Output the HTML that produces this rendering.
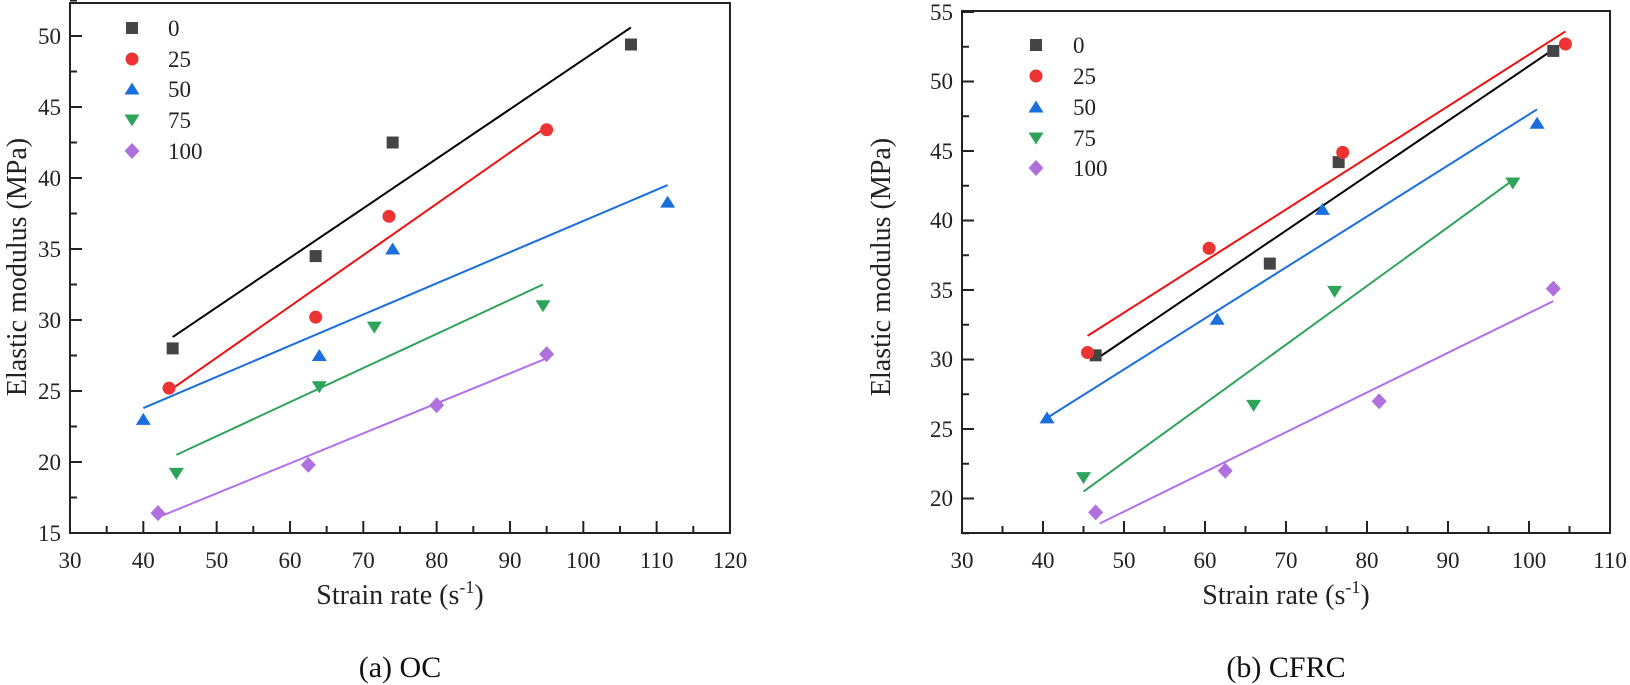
<!DOCTYPE html>
<html><head><meta charset="utf-8"><style>
html,body{margin:0;padding:0;background:#fff;}
svg{display:block;font-family:"Liberation Serif",serif;}
</style></head><body>
<svg id="s" width="1630" height="685" viewBox="0 0 1630 685" xmlns="http://www.w3.org/2000/svg">
<g font-size="23" fill="#222">
<g text-anchor="middle">
<text x="70" y="568">30</text><text x="143.3" y="568">40</text><text x="216.7" y="568">50</text><text x="290" y="568">60</text><text x="363.3" y="568">70</text><text x="436.7" y="568">80</text><text x="510" y="568">90</text><text x="583.3" y="568">100</text><text x="656.7" y="568">110</text><text x="730" y="568">120</text>
<text x="962" y="568">30</text><text x="1043" y="568">40</text><text x="1124" y="568">50</text><text x="1205" y="568">60</text><text x="1286" y="568">70</text><text x="1367" y="568">80</text><text x="1448" y="568">90</text><text x="1529" y="568">100</text><text x="1610" y="568">110</text>
</g>
<g text-anchor="end">
<text x="61" y="541">15</text><text x="61" y="470">20</text><text x="61" y="399">25</text><text x="61" y="328">30</text><text x="61" y="257">35</text><text x="61" y="186">40</text><text x="61" y="115">45</text><text x="61" y="44">50</text>
<text x="953" y="506">20</text><text x="953" y="437">25</text><text x="953" y="367">30</text><text x="953" y="298">35</text><text x="953" y="228">40</text><text x="953" y="159">45</text><text x="953" y="89">50</text><text x="953" y="20">55</text>
</g>
<g font-size="28" text-anchor="middle">
<text x="400" y="604">Strain rate (s<tspan dy="-11" font-size="18">-1</tspan><tspan dy="11">)</tspan></text>
<text x="1286" y="604">Strain rate (s<tspan dy="-11" font-size="18">-1</tspan><tspan dy="11">)</tspan></text>
<text transform="translate(26,267) rotate(-90)">Elastic modulus (MPa)</text>
<text transform="translate(890,267) rotate(-90)">Elastic modulus (MPa)</text>
</g>
<g font-size="30" text-anchor="middle" fill="#111">
<text x="400" y="677">(a) OC</text>
<text x="1286" y="677">(b) CFRC</text>
</g>
<g font-size="23">
<text x="168" y="36">0</text><text x="168" y="67">25</text><text x="168" y="97">50</text><text x="168" y="128">75</text><text x="168" y="159">100</text>
<text x="1073" y="53">0</text><text x="1073" y="84">25</text><text x="1073" y="115">50</text><text x="1073" y="146">75</text><text x="1073" y="176">100</text>
</g>
</g>
</svg>
<script>
var s=document.getElementById('s'),NS='http://www.w3.org/2000/svg';
function el(t,a){var e=document.createElementNS(NS,t);for(var k in a)e.setAttribute(k,a[k]);s.appendChild(e);return e;}
var cols=['#444','#ee3333','#1a6fdd','#2ea35a','#b070dd'];
function mk(i,x,y){var r=6.5,c=cols[i];
 if(i==0)el('rect',{x:x-r+0.5,y:y-r+0.5,width:2*r-1,height:2*r-1,fill:c});
 else if(i==1)el('circle',{cx:x,cy:y,r:r,fill:c});
 else if(i==2)el('polygon',{points:(x-r-1)+','+(y+r-1)+' '+(x+r+1)+','+(y+r-1)+' '+x+','+(y-r),fill:c});
 else if(i==3)el('polygon',{points:(x-r-1)+','+(y-r+1)+' '+(x+r+1)+','+(y-r+1)+' '+x+','+(y+r),fill:c});
 else el('polygon',{points:x+','+(y-r-1.5)+' '+(x+r+1)+','+y+' '+x+','+(y+r+1.5)+' '+(x-r-1)+','+y,fill:c});}
function plot(P){
 var X=function(v){return P.x0+(v-P.xa)*P.kx},Y=function(v){return P.yb-(v-P.ya)*P.ky};
 el('rect',{x:P.x0,y:P.top,width:X(P.xe)-P.x0,height:P.bot-P.top,fill:'none',stroke:'#222','stroke-width':2});
 for(var v=P.xa;v<=P.xe+0.01;v+=5){var maj=(v%10==0);el('line',{x1:X(v),x2:X(v),y1:P.bot,y2:P.bot-(maj?12:7),stroke:'#222','stroke-width':2});}
 for(var v=P.ytk0;v<=P.ytk1+0.01;v+=2.5){var maj=(v%5==0);el('line',{x1:P.x0,x2:P.x0+(maj?12:7),y1:Y(v),y2:Y(v),stroke:'#222','stroke-width':2});}
 P.L.forEach(function(l,i){el('line',{x1:X(l[0]),y1:Y(l[1]),x2:X(l[2]),y2:Y(l[3]),stroke:['#000','#ee1111','#1a6fdd','#2ea35a','#b070ee'][i],'stroke-width':2});});
 P.D.forEach(function(d,i){for(var j=0;j<d.length;j+=2)mk(i,X(d[j]),Y(d[j+1]));});
 P.leg.forEach(function(y,i){mk(i,P.lx,y);});
}
plot({x0:70,xa:30,xe:120,kx:7.333,yb:533,ya:15,ky:14.2,top:3,bot:533,ytk0:15,ytk1:52.5,lx:132,leg:[28,59,89,120,151],
 L:[[44,28.8,106.5,50.6],[43.5,25,95,43.6],[40,23.8,111.5,39.5],[44.5,20.5,94.5,32.5],[42,16.1,95,27.3]],
 D:[[44,28,63.5,34.5,74,42.5,106.5,49.4],[43.5,25.2,63.5,30.2,73.5,37.3,95,43.4],[40,23,64,27.5,74,35,111.5,38.3],[44.5,19.2,64,25.3,71.5,29.5,94.5,31],[42,16.4,62.5,19.8,80,24,95,27.6]]});
plot({x0:962,xa:30,xe:110,kx:8.1,yb:498.5,ya:20,ky:13.9,top:11,bot:533,ytk0:17.5,ytk1:55,lx:1036,leg:[45,76,107,138,168],
 L:[[46.5,30,103.5,52.5],[45.5,31.7,104.5,53.6],[40.5,25.8,101,48],[45,20.5,98,42.9],[47,18.2,103,34.2]],
 D:[[46.5,30.3,68,36.9,76.5,44.2,103,52.2],[45.5,30.5,60.5,38,77,44.9,104.5,52.7],[40.5,25.8,61.5,32.9,74.5,40.8,101,47],[45,21.5,66,26.7,76,34.9,98,42.7],[46.5,19,62.5,22,81.5,27,103,35.1]]});
</script>
</body></html>
